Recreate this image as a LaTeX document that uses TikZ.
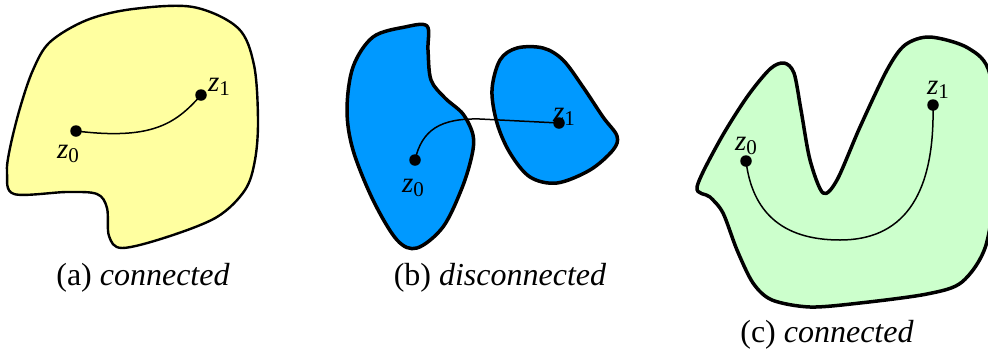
\documentclass[tikz,border=0pt]{standalone}
\usepackage{fontspec}
\setmainfont{Liberation Serif}
\begin{document}
\begin{tikzpicture}[x=1pt,y=-1pt,
  region/.style={draw=black,line join=round},
  pathline/.style={draw=black,line width=1.5pt},
  dot/.style={circle,fill=black,inner sep=0pt,minimum size=11.5pt},
  zlab/.style={inner sep=0pt,font=\fontsize{29}{30}\selectfont},
  caption/.style={anchor=base,inner sep=0pt,font=\fontsize{32}{34}\selectfont}]
\definecolor{ayellow}{RGB}{255,255,160}
\definecolor{bblue}{RGB}{0,153,255}
\definecolor{cgreen}{RGB}{204,255,204}
\useasboundingbox (0,0) rectangle (988,349);
\clip (0,0) rectangle (988,349);
% (a)
\path[region,fill=ayellow,line width=2.4pt] plot[smooth cycle,tension=0.55] coordinates {
 (7,173) (10,148) (20,108) (33,70) (50,42) (87,20) (133,9) (193,7) (238,28) (254,65) (258,120) (255,160) (245,190)
 (217,217) (167,237) (122,248) (109,236) (107,208) (97,194) (67,192) (14,194)};
\node[dot] (a0) at (76,131) {};
\node[dot] (a1) at (201,95) {};
\draw[pathline] (a0.center) .. controls (150,140) and (175,125) .. (a1.center);
\node[zlab] (a0l) at (68,154) {\textit{z}\raisebox{-0.35ex}{\fontsize{21}{21}\selectfont 0}};
\node[zlab] (a1l) at (219,87) {\textit{z}\raisebox{-0.35ex}{\fontsize{21}{21}\selectfont 1}};
\node[caption] (acap) at (143,285) {(a) \textit{connected}};
% (b)
\path[region,fill=bblue,line width=3.5pt] plot[smooth cycle,tension=0.55] coordinates {
 (427,26) (428,50) (431,80) (445,98) (463,114) (473,135) (472,155) (462,188) (443,227) (417,248) (397,240)
 (373,200) (353,150) (347,110) (353,67) (373,37) (405,27)};
\path[region,fill=bblue,line width=3.5pt] plot[smooth cycle,tension=0.55] coordinates {
 (517,48) (543,48) (563,60) (583,87) (603,117) (617,136) (613,150) (590,170) (557,183) (530,177) (510,153)
 (497,123) (492,90) (500,60)};
\node[dot] (b0) at (415,160) {};
\node[dot] (b1) at (559,123) {};
\draw[pathline] (b0.center) .. controls (422,130) and (440,118) .. (480,119) -- (b1.center);
\node[zlab] (b0l) at (413,188) {\textit{z}\raisebox{-0.35ex}{\fontsize{21}{21}\selectfont 0}};
\node[zlab] (b1l) at (564,117) {\textit{z}\raisebox{-0.35ex}{\fontsize{21}{21}\selectfont 1}};
\node[caption] (bcap) at (500,285) {(b) \textit{disconnected}};
% (c)
\path[region,fill=cgreen,line width=3.5pt] plot[smooth cycle,tension=0.5] coordinates {
 (697,187) (720,140) (747,97) (770,69) (784,63) (794,73) (801,110) (810,160) (823,193) (837,180) (860,127)
 (887,70) (905,45) (930,37) (968,48) (990,75) (996,170) (986,245) (962,282) (927,294) (860,303) (810,307)
 (772,300) (753,283) (737,250) (723,213) (710,197)};
\node[dot] (c0) at (746,161) {};
\node[dot] (c1) at (933,105) {};
\draw[pathline] (c0.center) .. controls (752,210) and (780,240) .. (840,240)
  .. controls (900,240) and (935,200) .. (c1.center);
\node[zlab] (c0l) at (746,146) {\textit{z}\raisebox{-0.35ex}{\fontsize{21}{21}\selectfont 0}};
\node[zlab] (c1l) at (938,90) {\textit{z}\raisebox{-0.35ex}{\fontsize{21}{21}\selectfont 1}};
\node[caption] (ccap) at (827,342) {(c) \textit{connected}};
\end{tikzpicture}
\end{document}
